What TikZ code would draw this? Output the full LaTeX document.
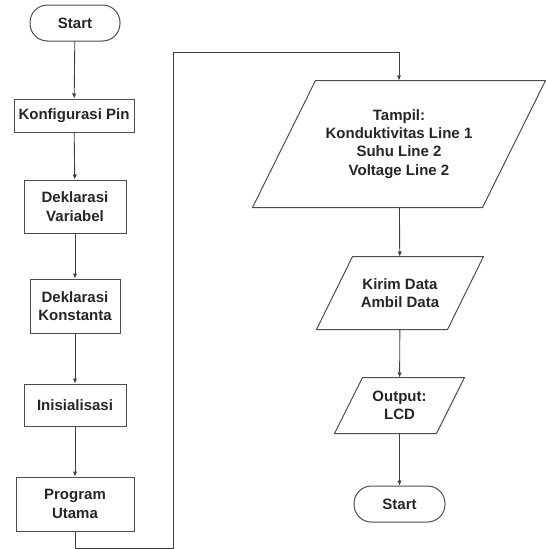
\documentclass[tikz,border=0pt]{standalone}
\usepackage{fontspec}
\setmainfont{Liberation Sans}
\usepackage{tikz}
\usetikzlibrary{shapes,arrows.meta,positioning,calc}

\tikzset{
    flowbox/.style={draw=black!70, line width=1pt, align=center, font=\fontsize{15}{18.3}\selectfont\bfseries, text=black!85, inner sep=2pt},
    procbox/.style={flowbox, rectangle},
    termbox/.style={flowbox, rectangle, rounded corners=17.5pt},
    iobox/.style={flowbox, rectangle, draw=none},
    ioline/.style={draw=black!70, line width=1pt, line join=miter},
    flowline/.style={draw=black!75, line width=0.9pt, -{Latex[length=5pt,width=4.5pt]}}
}

\begin{document}
\begin{tikzpicture}[x=1pt, y=-1pt]
                \useasboundingbox (0,0) rectangle (546,549);

                % Left column
                \node[termbox, minimum width=90pt, minimum height=36pt] (start) at (75,23) {Start};
                \node[procbox, minimum width=120pt, minimum height=33pt] (konfig) at (74,115.5) {Konfigurasi Pin};
                \node[procbox, minimum width=102pt, minimum height=53pt] (variabel) at (75,206.5) {Deklarasi\\Variabel};
                \node[procbox, minimum width=90pt, minimum height=54pt] (konstanta) at (75,306) {Deklarasi\\Konstanta};
                \node[procbox, minimum width=102pt, minimum height=42pt] (inisial) at (75,405) {Inisialisasi};
                \node[procbox, minimum width=118pt, minimum height=54pt] (utama) at (75,504) {Program\\Utama};

                % Right column (parallelograms drawn round the text nodes)
                \node[iobox, minimum width=292pt, minimum height=126pt] (tampil) at (399,144) {Tampil:\\Konduktivitas Line 1\\Suhu Line 2\\Voltage Line 2};
                \draw[ioline] ($(tampil.north west)+(63,0)$) -- (tampil.north east) -- ($(tampil.south east)+(-63,0)$) -- (tampil.south west) -- cycle;

                \node[iobox, minimum width=166pt, minimum height=72pt] (kirim) at (400,293) {Kirim Data\\Ambil Data};
                \draw[ioline] ($(kirim.north west)+(36,0)$) -- (kirim.north east) -- ($(kirim.south east)+(-36,0)$) -- (kirim.south west) -- cycle;

                \node[iobox, minimum width=129pt, minimum height=55pt] (output) at (399.5,405.5) {Output:\\LCD};
                \draw[ioline] ($(output.north west)+(28,0)$) -- (output.north east) -- ($(output.south east)+(-28,0)$) -- (output.south west) -- cycle;

                \node[termbox, minimum width=91pt, minimum height=36pt] (stop) at (399.5,504) {Start};

                % Loop-over line
                \coordinate (bend1) at (173,548);
                \coordinate (bend2) at (173,52);

                % Arrows
                \draw[flowline] (start) -- (konfig);
                \draw[flowline] (konfig) -- (variabel);
                \draw[flowline] (variabel) -- (konstanta);
                \draw[flowline] (konstanta) -- (inisial);
                \draw[flowline] (inisial) -- (utama);
                \draw[flowline] (utama.south) |- (bend1) -- (bend2) -| (tampil.north);
                \draw[flowline] (tampil) -- (kirim);
                \draw[flowline] (kirim) -- (output);
                \draw[flowline] (output) -- (stop);
\end{tikzpicture}
\end{document}
